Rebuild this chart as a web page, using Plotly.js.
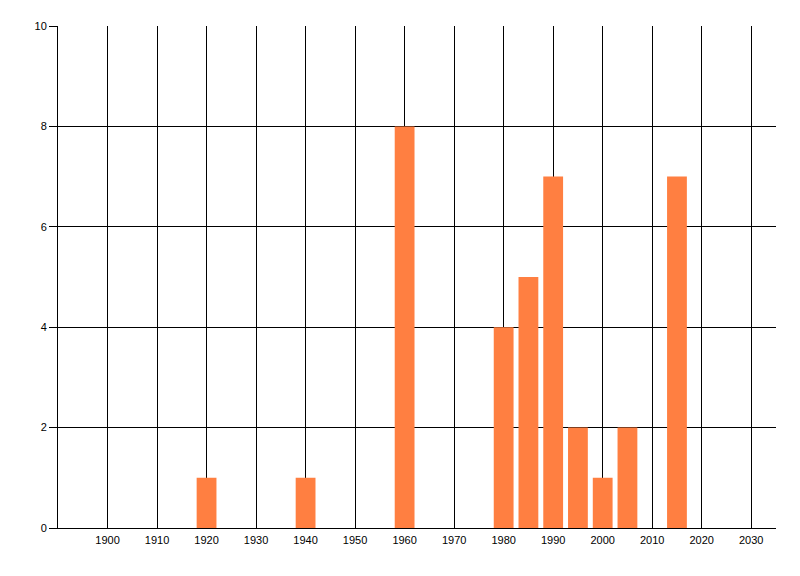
<!DOCTYPE html>
<html>
<head>
<meta charset="utf-8">
<script src="https://cdn.plot.ly/plotly-3.0.1.min.js"></script>
<style>html,body{margin:0;padding:0;background:#fff;}#chart{width:800px;height:576px;}</style>
</head>
<body>
<div id="chart"></div>
<script>
const years = [1920, 1940, 1960, 1980, 1985, 1990, 1995, 2000, 2005, 2015];
const counts = [1, 1, 8, 4, 5, 7, 2, 1, 2, 7];
const xTicks = [1900, 1910, 1920, 1930, 1940, 1950, 1960, 1970, 1980, 1990, 2000, 2010, 2020, 2030];
const yTicks = [0, 2, 4, 6, 8, 10];

const trace = {
  type: 'bar',
  x: years,
  y: counts,
  width: 4,
  marker: {color: '#FF7F41', line: {width: 0}},
  hoverinfo: 'x+y'
};

const layout = {
  width: 800,
  height: 576,
  margin: {l: 58, r: 24, t: 26, b: 48, pad: 0},
  paper_bgcolor: '#ffffff',
  plot_bgcolor: '#ffffff',
  showlegend: false,
  font: {family: 'Liberation Sans, Arial, sans-serif', size: 11, color: '#000000'},
  xaxis: {
    range: [1890, 2035],
    tickmode: 'array',
    tickvals: xTicks,
    ticktext: xTicks.map(String),
    showgrid: true,
    gridcolor: '#000000',
    gridwidth: 1,
    showline: true,
    linecolor: '#000000',
    linewidth: 1,
    zeroline: false,
    ticks: '',
    ticklabelstandoff: 2,
    tickfont: {size: 11, color: '#000000'}
  },
  yaxis: {
    range: [0, 10],
    tickmode: 'array',
    tickvals: yTicks,
    ticktext: yTicks.map(String),
    showgrid: true,
    gridcolor: '#000000',
    gridwidth: 1,
    showline: true,
    linecolor: '#000000',
    linewidth: 1,
    zeroline: false,
    ticks: 'outside',
    ticklen: 8,
    tickcolor: '#000000',
    tickfont: {size: 11, color: '#000000'}
  }
};

Plotly.newPlot('chart', [trace], layout, {displayModeBar: false, staticPlot: true});
</script>
</body>
</html>
